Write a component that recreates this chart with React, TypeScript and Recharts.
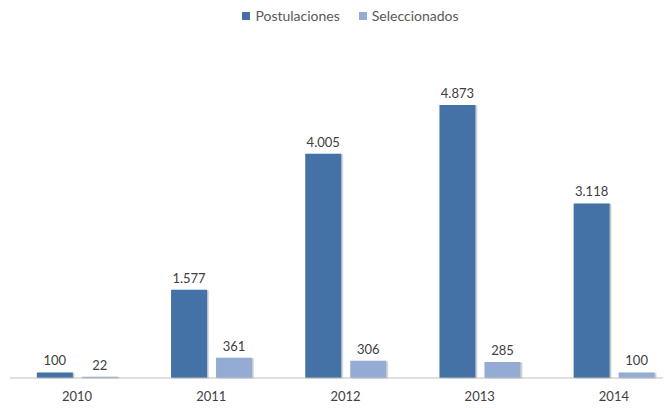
import { BarChart, Bar, XAxis, YAxis, Legend, LabelList } from "recharts";

const years = ["2010", "2011", "2012", "2013", "2014"];
const postulaciones = [100, 1577, 4005, 4873, 3118];
const seleccionados = [22, 361, 306, 285, 100];

const COLORS = { post: "#4472a6", sel: "#94abd3" };
const FONT = "Lato, 'Open Sans', sans-serif";

const data = years.map((y, i) => ({
  year: y,
  Postulaciones: postulaciones[i],
  Seleccionados: seleccionados[i],
}));

function fmt(v: number) {
  return String(v).replace(/\B(?=(\d{3})+(?!\d))/g, ".");
}

function LegendContent() {
  const items = [
    { name: "Postulaciones", color: COLORS.post },
    { name: "Seleccionados", color: COLORS.sel },
  ];
  return (
    <div style={{ display: "flex", justifyContent: "center", gap: 19, fontFamily: FONT, fontSize: 14, color: "#595959" }}>
      {items.map((it) => (
        <span key={it.name} style={{ display: "flex", alignItems: "center" }}>
          <span style={{ width: 8, height: 8, background: it.color, marginRight: 5, display: "inline-block" }} />
          {it.name}
        </span>
      ))}
    </div>
  );
}

const labelStyle = { fill: "#404040", fontSize: 13, fontFamily: FONT };

export default function App() {
  return (
    <div style={{ width: 663, height: 400, overflow: "hidden" }}>
      <BarChart
        width={690}
        height={400}
        data={data}
        margin={{ top: 90, right: 17, bottom: 0, left: 2 }}
        barCategoryGap="20%"
        barGap={9}
      >
        <defs>
          <filter id="barShadow" x="-10%" y="-10%" width="130%" height="120%">
            <feDropShadow dx="1.5" dy="0.5" stdDeviation="0.7" floodColor="#000" floodOpacity="0.25" />
          </filter>
        </defs>
        <XAxis
          dataKey="year"
          height={30}
          tickLine={false}
          tickMargin={8}
          axisLine={{ stroke: "#bfbfbf" }}
          tick={{ fill: "#404040", fontSize: 13, fontFamily: FONT }}
        />
        <YAxis hide domain={[0, 5000]} />
        <Legend
          verticalAlign="middle"
          align="center"
          layout="horizontal"
          wrapperStyle={{ top: -1, left: 11, width: 663 }}
          content={<LegendContent />}
        />
        <Bar dataKey="Postulaciones" fill={COLORS.post} filter="url(#barShadow)" isAnimationActive={false}>
          <LabelList dataKey="Postulaciones" position="top" offset={7} formatter={(v: any) => fmt(Number(v))} style={labelStyle} />
        </Bar>
        <Bar dataKey="Seleccionados" fill={COLORS.sel} filter="url(#barShadow)" isAnimationActive={false}>
          <LabelList dataKey="Seleccionados" position="top" offset={7} formatter={(v: any) => fmt(Number(v))} style={labelStyle} />
        </Bar>
      </BarChart>
    </div>
  );
}
